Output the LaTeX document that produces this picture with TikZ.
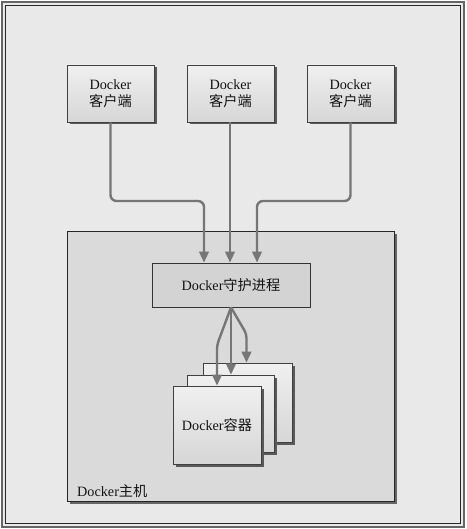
\documentclass[tikz,border=0pt]{standalone}
\usepackage{fontspec}
\setmainfont{Liberation Serif}
\newfontfamily\cjk{Noto Sans CJK SC}
\usetikzlibrary{arrows.meta,shadows,calc}
\definecolor{bg}{HTML}{E9E9E9}
\definecolor{hostfill}{HTML}{DADADA}
\definecolor{daemonfill}{HTML}{D3D3D3}
\definecolor{conncol}{HTML}{767676}
\tikzset{
  txt/.style={font=\fontsize{14.2}{17}\selectfont, text=black!92},
  cardbox/.style={draw=black!75, line width=0.7pt, inner sep=0pt,
    top color=white!94!black, bottom color=white!84!black,
    drop shadow={shadow xshift=2.5pt, shadow yshift=-2.5pt, fill=black!65, opacity=1},
    txt, align=center},
  clientbox/.style={cardbox, minimum width=87pt, minimum height=57pt},
  contbox/.style={cardbox, minimum width=88pt, minimum height=78pt},
  conn/.style={draw=conncol, line width=2.4pt, rounded corners=6pt,
    -{Triangle[length=11pt,width=9.5pt]}},
}
\begin{document}
\begin{tikzpicture}[x=1pt,y=-1pt]
\useasboundingbox (0,0) rectangle (466,529);
% outer frame
\fill[bg] (2,2) rectangle (464,527);
\draw[black!60, line width=1.6pt] (2,2) rectangle (464,527);
\draw[black!85, line width=0.7pt] (5.5,5.5) rectangle (460.5,523.5);
% host
\node[draw=black!85, line width=0.8pt, fill=hostfill, minimum width=327pt, minimum height=270pt,
  drop shadow={shadow xshift=2.5pt, shadow yshift=-2.5pt, fill=black!60, opacity=1}] (host) at (230.5,366) {};
\node[anchor=south west, inner sep=0pt, txt] (hostlbl) at (77,498) {Docker{\cjk 主机}};
% clients
\node[clientbox] (c1) at (110.5,93.5) {Docker\\{\cjk 客户端}};
\node[clientbox] (c2) at (230.5,93.5) {Docker\\{\cjk 客户端}};
\node[clientbox] (c3) at (350.5,93.5) {Docker\\{\cjk 客户端}};
% daemon
\node[draw=black!80, line width=0.8pt, fill=daemonfill, minimum width=158pt, minimum height=44pt,
  txt] (d) at (231,285) {Docker{\cjk 守护进程}};
% containers
\node[contbox, minimum width=89pt, minimum height=79pt] (k1) at (247.5,402.5) {};
\node[contbox, minimum width=87pt, minimum height=77pt] (k2) at (230.5,413.5) {};
\node[contbox] (k3) at (217,425) {Docker{\cjk 容器}};
% client connectors
\coordinate (j1) at (204,201);
\coordinate (j3) at (257,201);
\draw[conn] (c1.south) |- (j1) -- (j1 |- d.north);
\draw[conn] (c2.south -| 230,0) -- (230,0 |- d.north);
\draw[conn] (c3.south) |- (j3) -- (j3 |- d.north);
% daemon to containers
\coordinate (b1) at (217,345);
\coordinate (b3) at (246.5,334);
\draw[conn, rounded corners=4pt] (d.south) -- (b1) -- (b1 |- k3.north);
\draw[conn] (d.south) -- (d.south |- k2.north);
\draw[conn, rounded corners=4pt] (d.south) -- (b3) -- (b3 |- k1.north);
\end{tikzpicture}
\end{document}
